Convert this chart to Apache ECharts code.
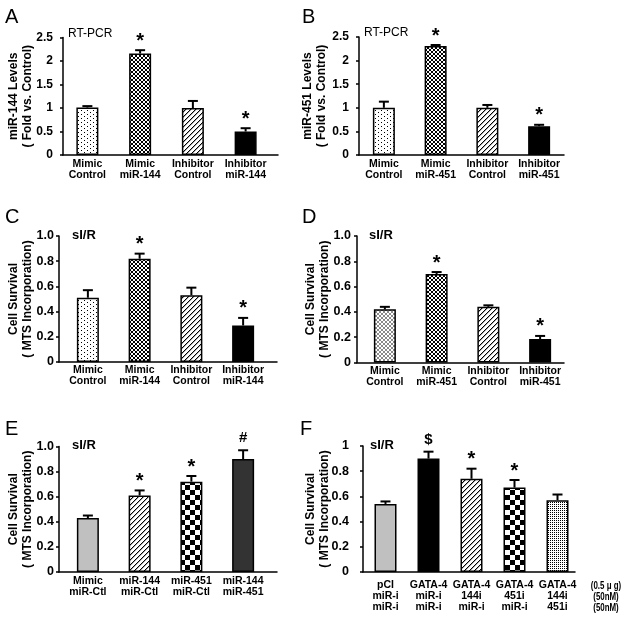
<!DOCTYPE html>
<html><head><meta charset="utf-8">
<script src="https://cdn.jsdelivr.net/npm/echarts@6/dist/echarts.min.js"></script>
<style>html,body{margin:0;padding:0;background:#fff}#c{width:628px;height:620px}</style>
</head><body><div id="c"></div>
<script>
// ---------- DATA ----------
const catsA = ['Mimic\nControl', 'Mimic\nmiR-144', 'Inhibitor\nControl', 'Inhibitor\nmiR-144'];
const valsA = [1.01, 2.16, 1.0, 0.50];
const errA  = [0.03, 0.07, 0.15, 0.07];
const sigA  = ['', '*', '', '*'];

const catsB = ['Mimic\nControl', 'Mimic\nmiR-451', 'Inhibitor\nControl', 'Inhibitor\nmiR-451'];
const valsB = [1.0, 2.31, 1.0, 0.61];
const errB  = [0.13, 0.02, 0.06, 0.03];
const sigB  = ['', '*', '', '*'];

const catsC = ['Mimic\nControl', 'Mimic\nmiR-144', 'Inhibitor\nControl', 'Inhibitor\nmiR-144'];
const valsC = [0.51, 0.82, 0.53, 0.29];
const errC  = [0.06, 0.04, 0.06, 0.06];
const sigC  = ['', '*', '', '*'];

const catsD = ['Mimic\nControl', 'Mimic\nmiR-451', 'Inhibitor\nControl', 'Inhibitor\nmiR-451'];
const valsD = [0.42, 0.70, 0.44, 0.185];
const errD  = [0.02, 0.015, 0.012, 0.025];
const sigD  = ['', '*', '', '*'];

const catsE = ['Mimic\nmiR-Ctl', 'miR-144\nmiR-Ctl', 'miR-451\nmiR-Ctl', 'miR-144\nmiR-451'];
const valsE = [0.43, 0.61, 0.72, 0.90];
const errE  = [0.02, 0.04, 0.045, 0.07];
const sigE  = ['', '*', '*', '#'];

const catsF = ['pCI\nmiR-i\nmiR-i', 'GATA-4\nmiR-i\nmiR-i', 'GATA-4\n144i\nmiR-i', 'GATA-4\n451i\nmiR-i', 'GATA-4\n144i\n451i'];
const valsF = [0.54, 0.90, 0.74, 0.67, 0.57];
const errF  = [0.02, 0.055, 0.08, 0.06, 0.045];
const sigF  = ['', '$', '*', '*', ''];
const unitsF = '(0.5 μ g)\n(50nM)\n(50nM)';

const yTicksAB  = ['0', '0.5', '1', '1.5', '2', '2.5'];
const yTicksCDE = ['0', '0.2', '0.4', '0.6', '0.8', '1.0'];
const yTicksF   = ['0', '0.2', '0.4', '0.6', '0.8', '1'];

// ---------- STYLES ----------
const FONT = '"Liberation Sans", Arial, sans-serif';
function tile(w, h, fn) {
  const c = document.createElement('canvas'); c.width = w; c.height = h;
  const g = c.getContext('2d'); g.fillStyle = '#fff'; g.fillRect(0, 0, w, h); fn(g);
  return { image: c, repeat: 'repeat' };
}
function px(g, col, pts) { g.fillStyle = col; pts.forEach(p => g.fillRect(p[0], p[1], 1, 1)); }
const xPts = [[0,0],[1,1],[2,2],[3,3],[0,3],[1,2],[2,1],[3,0]];
const PAT = {
  dots: tile(6, 4, g => px(g, '#000', [[0,0],[3,2]])),
  fineDots: tile(4, 4, g => px(g, '#000', [[0,0],[2,2],[2,0],[0,2]])),
  hatch: tile(4, 4, g => px(g, '#000', xPts)),
  lightHatch: tile(4, 4, g => px(g, '#8a8a8a', xPts)),
  stripes: tile(5, 5, g => { for (let i = 0; i < 5; i++) { px(g, '#000', [[i, 4 - i]]); px(g, '#aaa', [[i, (5 - i) % 5]]); } }),
  checker: tile(10, 10, g => { g.fillStyle = '#000'; g.fillRect(0, 0, 5, 5); g.fillRect(5, 5, 5, 5); })
};

const panels = [
  { cats: catsA, vals: valsA, errs: errA, sig: sigA, ticks: yTicksAB, max: 2.5, step: 0.5,
    name: 'miR-144 Levels\n( Fold vs. Control)', axisX: 63, axisEnd: 278, barL: 61, barW: 211, top: 37.5, h: 117.5,
    fills: [PAT.dots, PAT.hatch, PAT.stripes, '#000'], ySize: 12, yMargin: 10, nameGap: 29, xMargin: 4 },
  { cats: catsB, vals: valsB, errs: errB, sig: sigB, ticks: yTicksAB, max: 2.5, step: 0.5,
    name: 'miR-451 Levels\n( Fold vs. Control)', axisX: 359, axisEnd: 564, barL: 358, barW: 207, top: 37, h: 118,
    fills: [PAT.dots, PAT.hatch, PAT.stripes, '#000'], ySize: 12, yMargin: 10, nameGap: 31, xMargin: 4 },
  { cats: catsC, vals: valsC, errs: errC, sig: sigC, ticks: yTicksCDE, max: 1, step: 0.2,
    name: 'Cell Survival\n( MTS Incorporation)', axisX: 59, axisEnd: 277, barL: 62, barW: 207, top: 236, h: 126,
    fills: [PAT.dots, PAT.hatch, PAT.stripes, '#000'], ySize: 12.5, yMargin: 5, nameGap: 25, xMargin: 3 },
  { cats: catsD, vals: valsD, errs: errD, sig: sigD, ticks: yTicksCDE, max: 1, step: 0.2,
    name: 'Cell Survival\n( MTS Incorporation)', axisX: 357, axisEnd: 564, barL: 359, barW: 207, top: 236, h: 126.5,
    fills: [PAT.lightHatch, PAT.hatch, PAT.stripes, '#000'], ySize: 12.5, yMargin: 6, nameGap: 26, xMargin: 3 },
  { cats: catsE, vals: valsE, errs: errE, sig: sigE, ticks: yTicksCDE, max: 1, step: 0.2,
    name: 'Cell Survival\n( MTS Incorporation)', axisX: 59, axisEnd: 277, barL: 62, barW: 207, top: 446.5, h: 125.5,
    fills: ['#c0c0c0', PAT.stripes, PAT.checker, '#333333'], ySize: 12.5, yMargin: 5, nameGap: 25, xMargin: 4 },
  { cats: catsF, vals: valsF, errs: errF, sig: sigF, ticks: yTicksF, max: 1, step: 0.2,
    name: 'Cell Survival\n( MTS Incorporation)', axisX: 363, axisEnd: 575, barL: 364, barW: 215, top: 446, h: 126,
    fills: ['#c0c0c0', '#000', PAT.stripes, PAT.checker, PAT.fineDots], ySize: 12.5, yMargin: 14, nameGap: 32, xMargin: 8 }
];

const grid = [], xAxis = [], yAxis = [], series = [];
panels.forEach(p => {
  const gi = grid.length;
  grid.push({ left: p.axisX, top: p.top, width: p.axisEnd - p.axisX, height: p.h, containLabel: false, outerBoundsMode: 'none' });
  grid.push({ left: p.barL, top: p.top, width: p.barW, height: p.h, containLabel: false, outerBoundsMode: 'none' });
  xAxis.push({ gridIndex: gi, type: 'value', min: 0, max: 1,
    axisLine: { show: true, onZero: false, lineStyle: { color: '#000', width: 1.5 } },
    axisTick: { show: false }, axisLabel: { show: false }, splitLine: { show: false } });
  yAxis.push({ gridIndex: gi, type: 'value', min: 0, max: p.max, interval: p.step,
    axisLine: { show: true, onZero: false, lineStyle: { color: '#000', width: 1.5 } },
    axisTick: { show: true, length: 3, lineStyle: { color: '#000', width: 1.5 } },
    axisLabel: { margin: p.yMargin, fontSize: p.ySize, fontWeight: 'bold', color: '#000', fontFamily: FONT,
      formatter: v => p.ticks[Math.round(v / p.step)] },
    splitLine: { show: false },
    name: p.name, nameLocation: 'middle', nameGap: p.nameGap, nameMoveOverlap: false,
    nameTextStyle: { fontSize: 12, fontWeight: 'bold', lineHeight: 13.5, color: '#000', fontFamily: FONT } });
  xAxis.push({ gridIndex: gi + 1, type: 'category', data: p.cats,
    axisLine: { show: false }, axisTick: { show: false }, splitLine: { show: false },
    axisLabel: { interval: 0, margin: p.xMargin, fontSize: 10.5, fontWeight: 'bold', lineHeight: 11, color: '#000', fontFamily: FONT } });
  yAxis.push({ gridIndex: gi + 1, type: 'value', min: 0, max: p.max, show: false, splitLine: { show: false } });
  series.push({ type: 'bar', xAxisIndex: gi + 1, yAxisIndex: gi + 1, barWidth: 22, silent: true,
    data: p.vals.map((v, i) => ({ value: v, itemStyle: { color: p.fills[i] } })),
    itemStyle: { borderColor: '#000', borderWidth: 1.5 } });
  series.push({ type: 'custom', xAxisIndex: gi + 1, yAxisIndex: gi + 1, silent: true, z: 5,
    data: p.vals.map((v, i) => [i, v, p.errs[i]]),
    renderItem: (params, api) => {
      const i = api.value(0), v = api.value(1), e = api.value(2);
      const a = api.coord([i, v]), b = api.coord([i, v + e]);
      const s = p.sig[params.dataIndex];
      const ch = [
        { type: 'line', shape: { x1: a[0], y1: a[1], x2: b[0], y2: b[1] }, style: { stroke: '#000', lineWidth: 2 } },
        { type: 'line', shape: { x1: b[0] - 5, y1: b[1], x2: b[0] + 5, y2: b[1] }, style: { stroke: '#000', lineWidth: 2 } }
      ];
      if (s) {
        const isStar = s === '*';
        ch.push({ type: 'text', style: { text: s, x: b[0], y: b[1] - (isStar ? 9 : 12), align: 'center', verticalAlign: 'middle',
          font: 'bold ' + (isStar ? 20 : 15) + 'px ' + FONT, fill: '#000' } });
      }
      return { type: 'group', children: ch };
    } });
});

const txt = (t, x, y, font) => ({ type: 'text', left: x, top: y, silent: true, style: { text: t, font: font, fill: '#000' } });
const letterFont = '20px ' + FONT;
const graphic = [
  txt('A', 5, 7, letterFont), txt('B', 302, 7, letterFont),
  txt('C', 5, 207, letterFont), txt('D', 302, 207, letterFont),
  txt('E', 5, 419, letterFont), txt('F', 300, 419, letterFont),
  txt('RT-PCR', 68, 28, '12px ' + FONT), txt('RT-PCR', 364, 27, '12px ' + FONT),
  txt('sI/R', 72, 229, 'bold 13px ' + FONT), txt('sI/R', 369, 229, 'bold 13px ' + FONT),
  txt('sI/R', 72, 439, 'bold 13px ' + FONT), txt('sI/R', 370, 439, 'bold 13px ' + FONT),
  { type: 'text', x: 606, y: 580, scaleX: 0.72, silent: true,
    style: { text: unitsF, font: 'bold 11px ' + FONT, lineHeight: 11, fill: '#000', align: 'center', verticalAlign: 'top' } }
];

const chart = echarts.init(document.getElementById('c'));
chart.setOption({ animation: false, backgroundColor: '#fff', grid, xAxis, yAxis, series, graphic });
</script></body></html>
